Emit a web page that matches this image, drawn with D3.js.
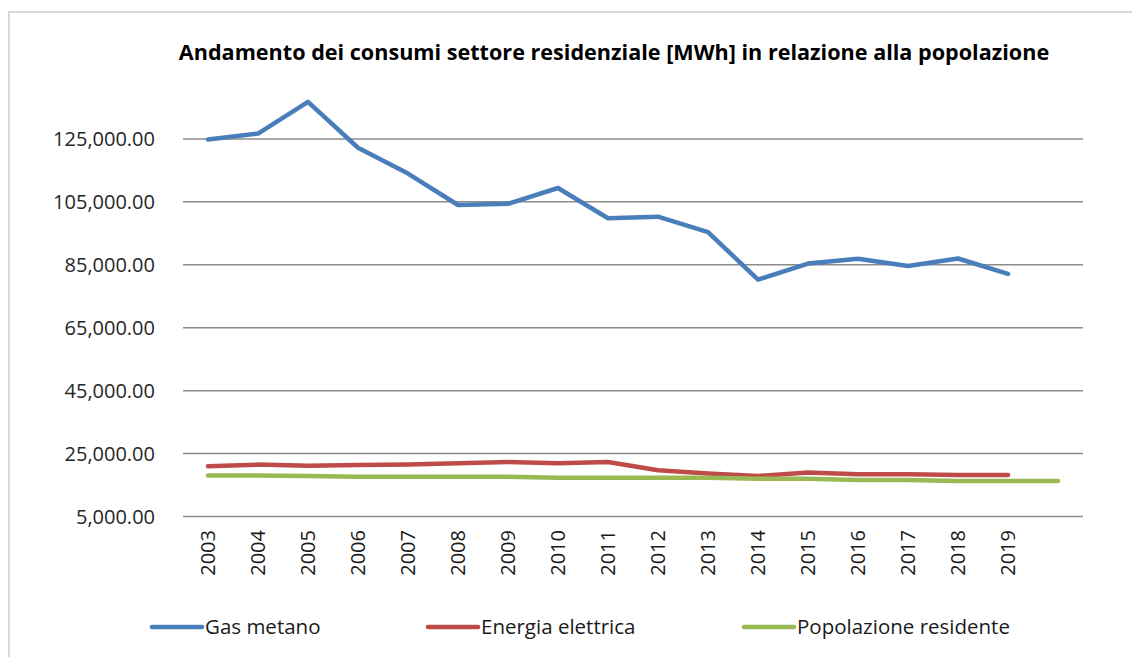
<!DOCTYPE html>
<html>
<head>
<meta charset="utf-8">
<script src="https://cdn.jsdelivr.net/npm/d3@7"></script>
<style>
  html, body { margin: 0; padding: 0; background: #fff; }
  svg { display: block; }
</style>
</head>
<body>
<div id="chart"></div>
<script>
// values
const years = ["2003", "2004", "2005", "2006", "2007", "2008", "2009", "2010", "2011",
  "2012", "2013", "2014", "2015", "2016", "2017", "2018", "2019", ""];
const gasMetano = [124800, 126700, 136800, 122200, 114000, 104000, 104400, 109400, 99800,
  100300, 95400, 80300, 85400, 86900, 84600, 87000, 82100];
const energiaElettrica = [21000, 21500, 21100, 21400, 21500, 21900, 22300, 21900, 22300,
  19700, 18700, 17900, 19000, 18400, 18400, 18200, 18200];
const popolazione = [18000, 18000, 17900, 17600, 17600, 17600, 17600, 17300, 17300,
  17300, 17300, 17000, 17000, 16600, 16600, 16300, 16300, 16300];
const yTicks = [5000, 25000, 45000, 65000, 85000, 105000, 125000];
const seriesNames = ["Gas metano", "Energia elettrica", "Popolazione residente"];
const seriesColors = ["#4a7ebb", "#be4b48", "#98b954"];
const chartTitle = "Andamento dei consumi settore residenziale [MWh] in relazione alla popolazione";

const width = 1132, height = 657;
const font = "'Open Sans', 'Noto Sans', sans-serif";

const svg = d3.select("#chart").append("svg")
  .attr("width", width)
  .attr("height", height);

// chart frame (only left and top edges are visible in the picture)
svg.append("path")
  .attr("d", `M9,${height} V12 H${width}`)
  .attr("fill", "none")
  .attr("stroke", "#d9d9d9")
  .attr("stroke-width", 2);

const x = d3.scaleBand()
  .domain(years)
  .range([183, 1083]);

const y = d3.scaleLinear()
  .domain([5000, 145000])
  .range([516.5, 76]);

const xc = d => x(d) + x.bandwidth() / 2;

// gridlines
svg.append("g")
  .selectAll("line")
  .data(yTicks)
  .join("line")
  .attr("x1", 183)
  .attr("x2", 1083)
  .attr("y1", d => y(d))
  .attr("y2", d => y(d))
  .attr("stroke", "#8c8c8c")
  .attr("stroke-width", 1.5);

// y labels
const fmt = d3.format(",.2f");
svg.append("g")
  .selectAll("text")
  .data(yTicks)
  .join("text")
  .attr("x", 155)
  .attr("y", d => y(d))
  .attr("dy", "0.36em")
  .attr("text-anchor", "end")
  .attr("font-family", font)
  .attr("font-size", 20)
  .attr("fill", "#262626")
  .text(d => fmt(d));

// x labels, rotated
svg.append("g")
  .selectAll("text")
  .data(years.filter(d => d !== ""))
  .join("text")
  .attr("transform", d => `translate(${xc(d)},530) rotate(-90)`)
  .attr("dy", "0.36em")
  .attr("text-anchor", "end")
  .attr("font-family", font)
  .attr("font-size", 20)
  .attr("fill", "#1a1a1a")
  .text(d => d);

// lines
const line = d3.line()
  .x((d, i) => xc(years[i]))
  .y(d => y(d));

[gasMetano, energiaElettrica, popolazione].forEach((values, i) => {
  svg.append("path")
    .datum(values)
    .attr("fill", "none")
    .attr("stroke", seriesColors[i])
    .attr("stroke-width", 4.5)
    .attr("stroke-linejoin", "round")
    .attr("stroke-linecap", "round")
    .attr("d", line);
});

// title
svg.append("text")
  .attr("x", 614)
  .attr("y", 60)
  .attr("text-anchor", "middle")
  .attr("font-family", font)
  .attr("font-weight", "bold")
  .attr("font-size", 21.6)
  .attr("fill", "#000")
  .text(chartTitle);

// legend
const legendX = [152, 428, 744];
const legend = svg.append("g")
  .selectAll("g")
  .data(seriesNames)
  .join("g")
  .attr("transform", (d, i) => `translate(${legendX[i]},627)`);

legend.append("line")
  .attr("x1", 0)
  .attr("x2", 50)
  .attr("stroke", (d, i) => seriesColors[i])
  .attr("stroke-width", 4.5)
  .attr("stroke-linecap", "round");

legend.append("text")
  .attr("x", 53)
  .attr("dy", "0.36em")
  .attr("font-family", font)
  .attr("font-size", 20.5)
  .attr("fill", "#1a1a1a")
  .text(d => d);
</script>
</body>
</html>
